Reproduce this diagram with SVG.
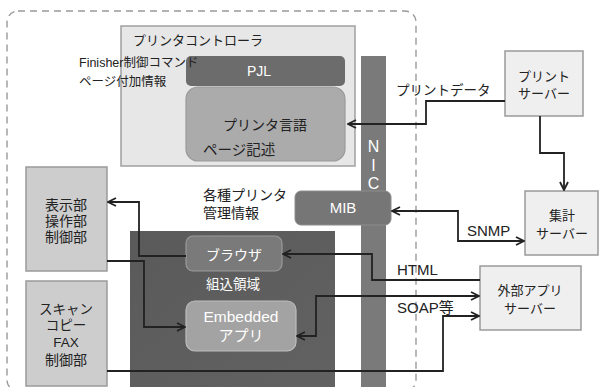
<svg xmlns="http://www.w3.org/2000/svg" width="600" height="387" viewBox="0 0 600 387">
  <style>
    text { font-family: "Liberation Sans", "Noto Sans CJK JP", sans-serif; fill: #222; }
    .w { fill: #fff; }
    .c { text-anchor: middle; }
    .wire { fill: none; stroke: #222; stroke-width: 1.8; }
    .server { fill: #efefef; stroke: #9a9a9a; stroke-width: 1.5; }
    .unit { fill: #cdcdcd; stroke: #9a9a9a; stroke-width: 1.5; }
  </style>
  <defs>
    <marker id="arr" viewBox="0 0 10 10" refX="9" refY="5" markerWidth="10" markerHeight="10" markerUnits="userSpaceOnUse" orient="auto-start-reverse">
      <path d="M1,1 L9,5 L1,9" fill="none" stroke="#222" stroke-width="1.8"/>
    </marker>
    <linearGradient id="emb" x1="0" y1="0" x2="1" y2="1">
      <stop offset="0" stop-color="#5a5a5a"/>
      <stop offset="1" stop-color="#626262"/>
    </linearGradient>
  </defs>
  <rect width="600" height="387" fill="#fff"/>

  <!-- printer boundary -->
  <rect id="printer" x="7" y="11" width="409" height="380" rx="11" fill="none" stroke="#999" stroke-width="1.4" stroke-dasharray="7,5"/>

  <g id="controller">
    <rect x="121" y="26" width="234" height="140" fill="#e7e7e7" stroke="#a0a0a0" stroke-width="1.5"/>
    <text x="133" y="45" font-size="13">プリンタコントローラ</text>
  </g>
  <g id="pjl">
    <rect x="186" y="56" width="159" height="30" rx="5" fill="#6c6c6c"/>
    <text class="w c" x="259" y="76" font-size="14">PJL</text>
  </g>
  <g id="language">
    <rect x="186" y="87" width="159" height="74" rx="12" fill="#ababab" stroke="#9a9a9a" stroke-width="1.2"/>
    <text class="c" x="265" y="130" font-size="14">プリンタ言語</text>
    <text x="203" y="155" font-size="14.5">ページ記述</text>
  </g>
  <g id="finisher-label">
    <text x="79" y="67" font-size="12.5">Finisher制御コマンド</text>
    <text x="79" y="86" font-size="12.5">ページ付加情報</text>
  </g>

  <g id="embedded-area">
    <rect x="130" y="231" width="205" height="156" fill="url(#emb)"/>
    <text class="w c" x="233" y="289" font-size="13.5">組込領域</text>
  </g>

  <g id="nic">
    <rect x="361" y="56" width="25" height="331" fill="#7a7a7a"/>
    <text class="w c" x="373.5" y="152" font-size="16">N</text>
    <text class="w c" x="373.5" y="171" font-size="16">I</text>
    <text class="w c" x="373.5" y="189" font-size="16">C</text>
  </g>
  <g id="mib">
    <rect x="295" y="191" width="96" height="34" rx="6" fill="#767676" stroke="#8c8c8c" stroke-width="1"/>
    <text class="w c" x="343" y="213" font-size="15">MIB</text>
  </g>
  <g id="mib-label">
    <text x="203" y="200" font-size="14">各種プリンタ</text>
    <text x="203" y="218" font-size="14">管理情報</text>
  </g>

  <g id="browser">
    <rect x="186" y="236" width="96" height="35" rx="7" fill="#7a7a7a" stroke="#999" stroke-width="1.2"/>
    <text class="w c" x="234" y="260" font-size="14">ブラウザ</text>
  </g>
  <g id="embedded-app">
    <rect x="186" y="301" width="110" height="50" rx="9" fill="#a3a3a3" stroke="#bdbdbd" stroke-width="1.2"/>
    <text class="w c" x="241" y="322" font-size="15.5">Embedded</text>
    <text class="w c" x="241" y="341" font-size="15">アプリ</text>
  </g>

  <g id="panel">
    <rect class="unit" x="26" y="167" width="81" height="104"/>
    <text class="c" x="66" y="210" font-size="14">表示部</text>
    <text class="c" x="66" y="226" font-size="14">操作部</text>
    <text class="c" x="66" y="242" font-size="14">制御部</text>
  </g>
  <g id="scanner">
    <rect class="unit" x="26" y="281" width="81" height="105"/>
    <text class="c" x="66" y="314" font-size="13.5">スキャン</text>
    <text class="c" x="66" y="330" font-size="13.5">コピー</text>
    <text class="c" x="66" y="347" font-size="13.5">FAX</text>
    <text class="c" x="66" y="365" font-size="14">制御部</text>
  </g>

  <g id="print-server">
    <rect class="server" x="505" y="51" width="78" height="65"/>
    <text class="c" x="544" y="81" font-size="13">プリント</text>
    <text class="c" x="544" y="98" font-size="13">サーバー</text>
  </g>
  <g id="count-server">
    <rect class="server" x="525" y="191" width="73" height="64"/>
    <text class="c" x="562" y="220" font-size="13">集計</text>
    <text class="c" x="562" y="238" font-size="13">サーバー</text>
  </g>
  <g id="app-server">
    <rect class="server" x="480" y="266" width="101" height="64"/>
    <text class="c" x="530" y="295" font-size="13">外部アプリ</text>
    <text class="c" x="530" y="313" font-size="13">サーバー</text>
  </g>

  <g id="connectors">
    <polyline class="wire" points="505,101 426,101 426,124 348,124" marker-end="url(#arr)"/>
    <polyline class="wire" points="540,116 540,153 564,153 564,190" marker-end="url(#arr)"/>
    <polyline class="wire" points="392,211 458,211 458,241 524,241" marker-start="url(#arr)" marker-end="url(#arr)"/>
    <polyline class="wire" points="480,280 372,280 372,254 283,254" marker-end="url(#arr)"/>
    <polyline class="wire" points="297,336 316,336 316,296 479,296" marker-start="url(#arr)" marker-end="url(#arr)"/>
    <polyline class="wire" points="107,371 443,371 443,316 479,316" marker-end="url(#arr)"/>
    <polyline class="wire" points="186,256 139,256 139,202 108,202" marker-end="url(#arr)"/>
    <polyline class="wire" points="107,261 144,261 144,327 185,327" marker-end="url(#arr)"/>
  </g>

  <g id="connector-labels">
    <text x="396" y="95" font-size="13.5">プリントデータ</text>
    <text x="467" y="236" font-size="15">SNMP</text>
    <text x="397" y="275" font-size="15">HTML</text>
    <text x="397" y="313" font-size="15">SOAP等</text>
  </g>
</svg>
